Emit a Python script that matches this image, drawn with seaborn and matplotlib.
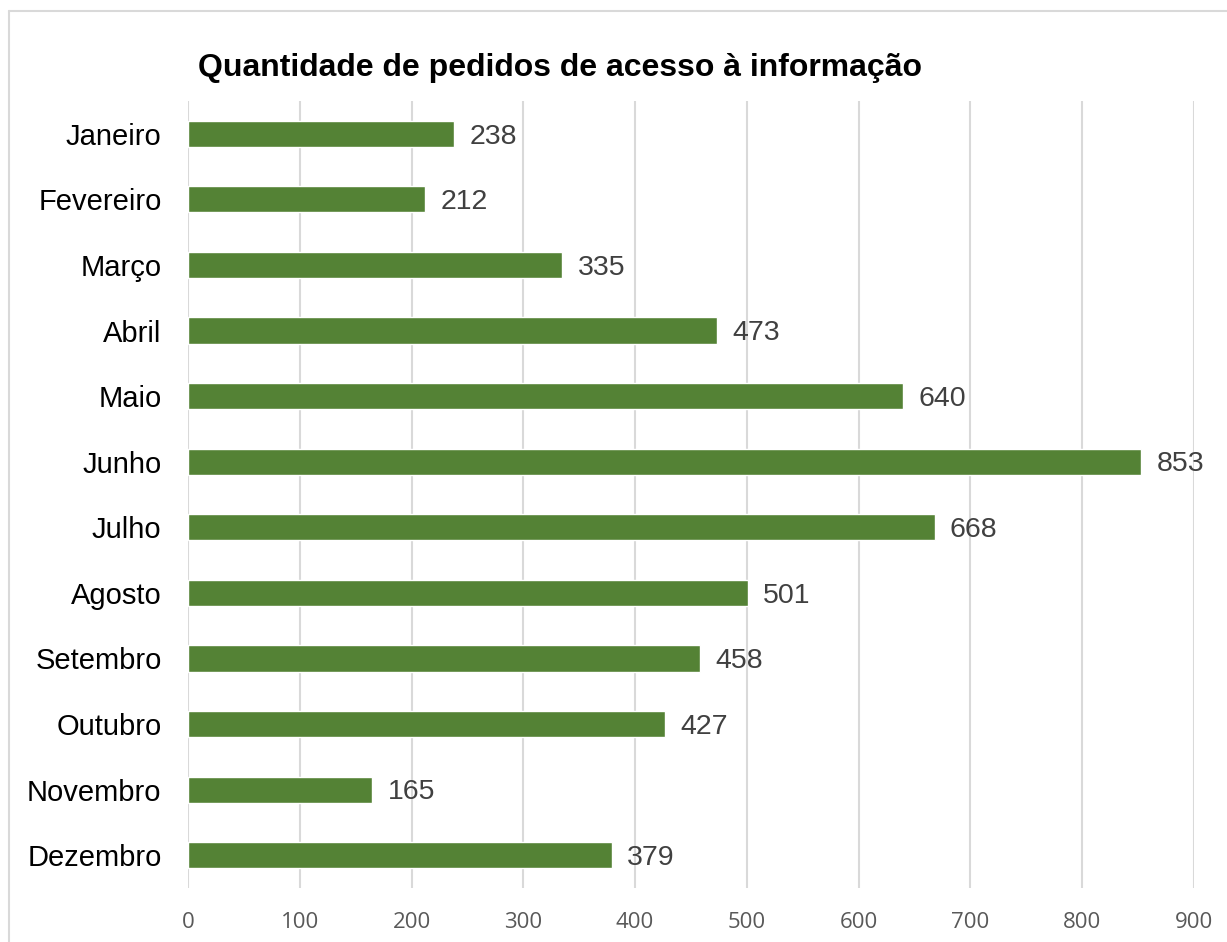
import matplotlib
matplotlib.use("Agg")
import matplotlib.pyplot as plt
import seaborn as sns
import pandas as pd
from matplotlib.lines import Line2D

meses = ["Janeiro", "Fevereiro", "Março", "Abril", "Maio", "Junho", "Julho",
         "Agosto", "Setembro", "Outubro", "Novembro", "Dezembro"]
pedidos = [238, 212, 335, 473, 640, 853, 668, 501, 458, 427, 165, 379]
xticks = [0, 100, 200, 300, 400, 500, 600, 700, 800, 900]

sns.set_style("white")
plt.rcParams["font.family"] = ["Liberation Sans", "DejaVu Sans"]

df = pd.DataFrame({"mes": meses, "pedidos": pedidos})

W, H = 1227, 942
fig = plt.figure(figsize=(W / 100, H / 100), dpi=100)
ax = fig.add_axes([188 / W, 1 - 888 / H, (1194 - 188) / W, (888 - 101) / H])

sns.barplot(data=df, y="mes", x="pedidos", orient="h", color="#548235",
            width=0.4, saturation=1, ax=ax, zorder=3)

ax.set_xlim(0, 900)
ax.set_ylim(11.5, -0.5)
ax.set_xticks(xticks)
ax.grid(axis="x", color="#d9d9d9", linewidth=1.5, zorder=0)
for s in ax.spines.values():
    s.set_visible(False)
ax.set_xlabel("")
ax.set_ylabel("")
ax.tick_params(axis="y", length=0, pad=19, labelsize=21, labelcolor="black")
ax.tick_params(axis="x", length=0, pad=17, labelsize=16, labelcolor="#595959")
for lab in ax.get_xticklabels():
    lab.set_family(["Open Sans", "DejaVu Sans"])

for i, v in enumerate(pedidos):
    ax.annotate(str(v), (v, i), xytext=(11, -2), textcoords="offset points",
                va="center", ha="left", fontsize=20.5, color="#404040", zorder=4)

fig.text(560 / W, 1 - 68 / H, "Quantidade de pedidos de acesso à informação",
         ha="center", va="center", fontsize=23, fontweight="bold", color="black")

# moldura cinza clara
fig.add_artist(Line2D([9 / W, 9 / W], [0, 1 - 11 / H], transform=fig.transFigure,
                      color="#d9d9d9", linewidth=1.5))
fig.add_artist(Line2D([9 / W, 1], [1 - 11 / H, 1 - 11 / H], transform=fig.transFigure,
                      color="#d9d9d9", linewidth=1.5))

fig.savefig("out.png", dpi=100, facecolor="white")
